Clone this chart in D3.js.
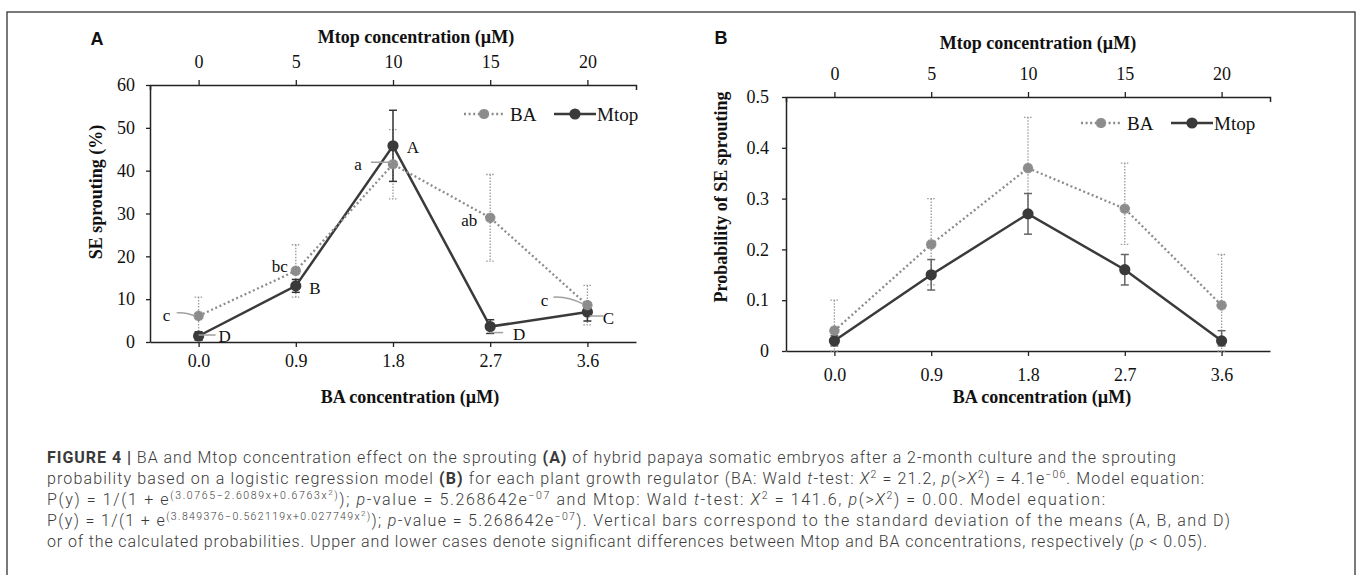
<!DOCTYPE html>
<html>
<head>
<meta charset="utf-8">
<script src="https://cdn.jsdelivr.net/npm/d3@7"></script>
<style>
  html, body { margin: 0; padding: 0; background: #fff; }
  svg { display: block; }
  .tick text { font-family: "Liberation Serif", "Times New Roman", serif; font-size: 18px; fill: #111; }
  .serif { font-family: "Liberation Serif", "Times New Roman", serif; }
</style>
</head>
<body>
<script>
"use strict";
// ---- data ----
const baConc = ["0.0", "0.9", "1.8", "2.7", "3.6"];
const mtopConc = ["0", "5", "10", "15", "20"];

// panel A: SE sprouting (%) with standard deviations
const sproutBA = [6.1, 16.6, 41.5, 29.0, 8.6];
const sproutBASd = [4.4, 6.1, 8.1, 10.1, 4.6];
const sproutMtop = [1.4, 13.1, 45.8, 3.6, 7.0];
const sproutMtopSd = [1.0, 1.5, 8.3, 1.6, 2.1];
const baLetters = ["c", "bc", "a", "ab", "c"];
const mtopLetters = ["D", "B", "A", "D", "C"];
const sproutTicks = [0, 10, 20, 30, 40, 50, 60];

// panel B: probability of SE sprouting with bounds
const probBA = [0.04, 0.21, 0.36, 0.28, 0.09];
const probBAHi = [0.10, 0.30, 0.46, 0.37, 0.19];
const probBALo = [0.00, 0.13, 0.27, 0.21, 0.00];
const probMtop = [0.02, 0.15, 0.27, 0.16, 0.02];
const probMtopHi = [0.03, 0.18, 0.31, 0.19, 0.04];
const probMtopLo = [0.01, 0.12, 0.23, 0.13, 0.01];
const probTicks = [0, 0.1, 0.2, 0.3, 0.4, 0.5];

// caption lines: [text, style]  b bold, i italic, s sup, ss sup of sup
const captionLines = [
  [["FIGURE 4 |", "b"], [" BA and Mtop concentration effect on the sprouting ", ""], ["(A)", "b"],
   [" of hybrid papaya somatic embryos after a 2-month culture and the sprouting", ""]],
  [["probability based on a logistic regression model ", ""], ["(B)", "b"],
   [" for each plant growth regulator (BA: Wald ", ""], ["t", "i"], ["-test: ", ""], ["X", "i"], ["2", "s"],
   [" =  21.2, ", ""], ["p", "i"], ["(>", ""], ["X", "i"], ["2", "s"], [") = 4.1e", ""], ["\u221206", "s"],
   [". Model equation:", ""]],
  [["P(y) = 1/(1 + e", ""], ["(3.0765\u22122.6089x+0.6763x", "s"], ["2", "ss"], [")", "s"], ["); ", ""],
   ["p", "i"], ["-value = 5.268642e", ""], ["\u221207", "s"], [" and Mtop: Wald ", ""], ["t", "i"],
   ["-test: ", ""], ["X", "i"], ["2", "s"], [" =  141.6, ", ""], ["p", "i"], ["(>", ""], ["X", "i"], ["2", "s"],
   [") = 0.00. Model equation:", ""]],
  [["P(y) = 1/(1 + e", ""], ["(3.849376\u22120.562119x+0.027749x", "s"], ["2", "ss"], [")", "s"], ["); ", ""],
   ["p", "i"], ["-value = 5.268642e", ""], ["\u221207", "s"],
   ["). Vertical bars correspond to the standard deviation of the means (A, B, and D)", ""]],
  [["or of the calculated probabilities. Upper and lower cases denote significant differences between Mtop and BA concentrations, respectively (", ""],
   ["p", "i"], [" < 0.05).", ""]]
];
const captionWidths = [1129, 1157, 1058, 1183, 1160];

// ---- drawing ----
const W = 1357, H = 575;
const svg = d3.select("body").append("svg").attr("width", W).attr("height", H);
svg.append("rect").attr("x", 7).attr("y", 12).attr("width", 1348).attr("height", 600)
  .attr("fill", "none").attr("stroke", "#333").attr("stroke-width", 1.3);

const DARK = "#3a3a3a", GREY = "#8c8c8c";
const starPath = d3.symbol().type(d3.symbolCross).size(58)();

function drawPanel(cfg) {
  const g = svg.append("g");
  const x = d3.scalePoint().domain(baConc).range([cfg.left, cfg.right]).padding(0.5);
  const xTop = d3.scalePoint().domain(mtopConc).range([cfg.left, cfg.right]).padding(0.5);
  const y = d3.scaleLinear().domain(cfg.yDomain).range([cfg.bottom, cfg.top]);

  const styleAxis = sel => {
    sel.select(".domain").attr("stroke", "#222").attr("stroke-width", 1.5);
    sel.selectAll(".tick line").attr("stroke", "#222").attr("stroke-width", 1.3);
  };
  g.append("g").attr("transform", `translate(0,${cfg.bottom})`)
    .call(d3.axisBottom(x).tickSize(5).tickSizeOuter(0).tickPadding(cfg.xPad))
    .call(styleAxis);
  g.append("g").attr("transform", `translate(0,${cfg.top})`)
    .call(d3.axisTop(xTop).tickSize(5).tickSizeOuter(-5).tickPadding(12))
    .call(styleAxis);
  g.append("g").attr("transform", `translate(${cfg.left},0)`)
    .call(d3.axisLeft(y).tickValues(cfg.yTicks).tickSize(4).tickSizeOuter(0).tickPadding(cfg.yPad)
      .tickFormat(cfg.yFormat))
    .call(styleAxis);
  g.selectAll(".tick text").attr("font-family", null).attr("font-size", null);

  // titles
  const title = (txt, tx, ty, rot) => g.append("text").attr("class", "serif")
    .attr("transform", `translate(${tx},${ty})` + (rot ? " rotate(-90)" : ""))
    .attr("text-anchor", "middle").attr("dy", "0.35em")
    .attr("font-size", 18).attr("font-weight", "bold").attr("fill", "#111").text(txt);
  title("Mtop concentration (\u00b5M)", cfg.titleX, cfg.topTitleY);
  title("BA concentration (\u00b5M)", cfg.bottomTitleX, 397);
  title(cfg.yLabel, cfg.yLabelX, cfg.yLabelY, true);
  g.append("text").attr("x", cfg.tagX).attr("y", cfg.tagY).attr("dy", "0.35em")
    .attr("text-anchor", "middle").attr("font-family", "Liberation Sans, Arial, sans-serif")
    .attr("font-size", 18).attr("font-weight", "bold").attr("fill", "#111").text(cfg.tag);

  // error bars
  const bars = (hi, lo, color, dash, width) => {
    const eb = g.append("g").attr("stroke", color).attr("stroke-width", width)
      .attr("stroke-dasharray", dash).attr("fill", "none");
    baConc.forEach((c, i) => {
      const cx = x(c), y1 = y(hi[i]), y2 = y(lo[i]);
      eb.append("line").attr("x1", cx).attr("x2", cx).attr("y1", y1).attr("y2", y2);
      eb.append("line").attr("x1", cx - 4).attr("x2", cx + 4).attr("y1", y1).attr("y2", y1);
      eb.append("line").attr("x1", cx - 4).attr("x2", cx + 4).attr("y1", y2).attr("y2", y2);
    });
  };
  bars(cfg.baHi, cfg.baLo, "#9a9a9a", "1.5,1.5", 1.3);
  bars(cfg.mtopHi, cfg.mtopLo, cfg.mtopBarColor, null, 1.5);

  const line = d3.line().x((d, i) => x(baConc[i])).y(d => y(d));
  g.append("path").datum(cfg.mtop).attr("d", line).attr("fill", "none")
    .attr("stroke", DARK).attr("stroke-width", 2.5);
  g.append("path").datum(cfg.ba).attr("d", line).attr("fill", "none")
    .attr("stroke", GREY).attr("stroke-width", 2.3).attr("stroke-dasharray", "2,2.6");

  g.selectAll(".mtopDot").data(cfg.mtop).join("circle").attr("class", "mtopDot")
    .attr("cx", (d, i) => x(baConc[i])).attr("cy", d => y(d)).attr("r", 5.6).attr("fill", DARK);
  const baDot = (sel, px, py) => {
    sel.append("path").attr("d", starPath).attr("transform", `translate(${px},${py})`).attr("fill", GREY);
    sel.append("path").attr("d", starPath).attr("transform", `translate(${px},${py}) rotate(45)`).attr("fill", GREY);
  };
  cfg.ba.forEach((d, i) => baDot(g, x(baConc[i]), y(d)));

  // significance letters
  if (cfg.letters) {
    cfg.letters.forEach(set => {
      set.labels.forEach((lab, i) => {
        const px = x(baConc[i]), py = y(set.vals[i]), o = set.offsets[i];
        if (o.lead) {
          g.append("path").attr("d", `M${px + o.lead[0]},${py + o.lead[1]} Q${px + o.lead[2]},${py + o.lead[3]} ${px + o.lead[4]},${py + o.lead[5]}`)
            .attr("fill", "none").attr("stroke", "#a0a0a0").attr("stroke-width", 1.5);
        }
        g.append("text").attr("class", "serif").attr("x", px + o.dx).attr("y", py + o.dy)
          .attr("dy", "0.35em").attr("text-anchor", "middle").attr("font-size", 17)
          .attr("fill", "#111").text(lab);
      });
    });
  }

  // legend
  const lg = g.append("g").attr("transform", `translate(${cfg.legendX},${cfg.legendY})`);
  lg.append("line").attr("x1", 0).attr("x2", 40).attr("stroke", GREY).attr("stroke-width", 2.3)
    .attr("stroke-dasharray", "2,2.6");
  baDot(lg, 20, 0);
  lg.append("text").attr("class", "serif").attr("x", 46).attr("dy", "0.35em").attr("font-size", 19)
    .attr("fill", "#111").text("BA");
  lg.append("line").attr("x1", 90).attr("x2", 132).attr("stroke", DARK).attr("stroke-width", 2.5);
  lg.append("circle").attr("cx", 111).attr("r", 5.6).attr("fill", DARK);
  lg.append("text").attr("class", "serif").attr("x", 133).attr("dy", "0.35em").attr("font-size", 19)
    .attr("fill", "#111").text("Mtop");
}

drawPanel({
  left: 150, right: 636, top: 85, bottom: 342,
  yDomain: [0, 60], yTicks: sproutTicks, yFormat: d3.format("d"), yPad: 11, xPad: 7,
  ba: sproutBA, baHi: sproutBA.map((v, i) => v + sproutBASd[i]), baLo: sproutBA.map((v, i) => v - sproutBASd[i]),
  mtop: sproutMtop, mtopHi: sproutMtop.map((v, i) => v + sproutMtopSd[i]),
  mtopLo: sproutMtop.map((v, i) => v - sproutMtopSd[i]),
  mtopBarColor: "#333",
  titleX: 416, topTitleY: 37, bottomTitleX: 410,
  yLabel: "SE sprouting (%)", yLabelX: 96, yLabelY: 192,
  tag: "A", tagX: 97, tagY: 39,
  legendX: 464, legendY: 114,
  letters: [
    { labels: baLetters, vals: sproutBA, offsets: [
      { dx: -32, dy: -1, lead: [-22, -3, -14, -4, -4, 0] },
      { dx: -16, dy: -5 },
      { dx: -35, dy: 0, lead: [-22, -2, -12, -2, -2, -2] },
      { dx: -21, dy: 2 },
      { dx: -43, dy: -5, lead: [-34, -8, -20, -9, -4, -1] }] },
    { labels: mtopLetters, vals: sproutMtop, offsets: [
      { dx: 26, dy: 0, lead: [0, -1, 8, -1, 17, -1] },
      { dx: 19, dy: 2 },
      { dx: 20, dy: 1 },
      { dx: 29, dy: 7, lead: [-1, 6, 6, 6, 13, 6] },
      { dx: 21, dy: 6, lead: [2, 4, 9, 4, 16, 4] }] }
  ]
});

drawPanel({
  left: 786, right: 1270, top: 97, bottom: 351,
  yDomain: [0, 0.5], yTicks: probTicks, yFormat: d => d === 0 ? "0" : d3.format(".1f")(d), yPad: 13, xPad: 12,
  ba: probBA, baHi: probBAHi, baLo: probBALo,
  mtop: probMtop, mtopHi: probMtopHi, mtopLo: probMtopLo,
  mtopBarColor: "#666",
  titleX: 1038, topTitleY: 43, bottomTitleX: 1042,
  yLabel: "Probability of SE sprouting", yLabelX: 721, yLabelY: 197,
  tag: "B", tagX: 721, tagY: 38,
  legendX: 1081, legendY: 123
});

// caption
const capLevel = { "": 0, b: 0, i: 0, s: 1, ss: 2 };
const capShift = [0, -6, -10], capSize = [16, 10.5, 8];
const cap = svg.append("g").attr("font-family", "Roboto, 'Liberation Sans', Arial, sans-serif")
  .attr("font-weight", 300).attr("fill", "#3a3a3a");
captionLines.forEach((segs, li) => {
  const t = cap.append("text").attr("x", 47).attr("y", 463 + li * 21)
    .attr("textLength", captionWidths[li]).attr("lengthAdjust", "spacing");
  let prev = 0;
  segs.forEach(([txt, st]) => {
    const lv = capLevel[st];
    t.append("tspan").attr("dy", capShift[lv] - capShift[prev]).attr("font-size", capSize[lv])
      .attr("font-weight", st === "b" ? 700 : null)
      .attr("font-style", st === "i" ? "italic" : null)
      .text(txt);
    prev = lv;
  });
});
</script>
</body>
</html>
